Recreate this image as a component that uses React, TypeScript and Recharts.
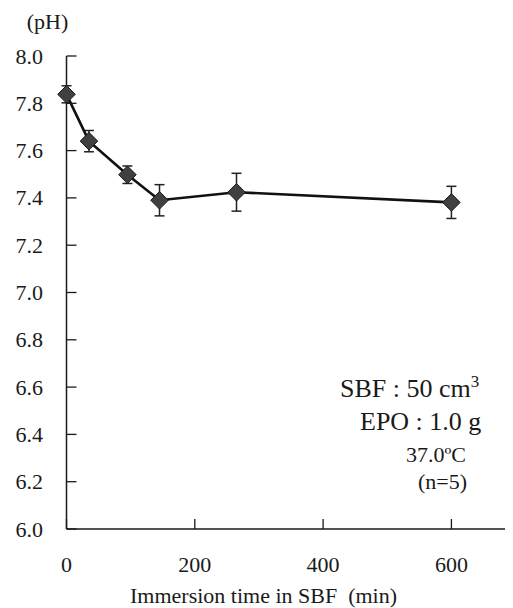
import React from 'react';
import { LineChart, Line, XAxis, YAxis, ErrorBar, Customized } from 'recharts';

const times = [0, 35, 95, 145, 265, 600];
const phValues = [7.838, 7.64, 7.498, 7.39, 7.424, 7.381];
const phErrors = [0.036, 0.045, 0.037, 0.066, 0.08, 0.068];
const xTicks = [0, 200, 400, 600];
const yTicks = [6.0, 6.2, 6.4, 6.6, 6.8, 7.0, 7.2, 7.4, 7.6, 7.8, 8.0];

const data = times.map((t, i) => ({ t, ph: phValues[i], err: phErrors[i] }));

const FONT = "'Liberation Serif', 'Times New Roman', 'DejaVu Serif', serif";
const INK = '#1a1a1a';
const textStyle = { fontFamily: FONT };

const YTick = (props: any) => {
  const { x, y, payload } = props;
  return (
    <g>
      <line x1={x} y1={y} x2={x + 10} y2={y} stroke={INK} strokeWidth={1.3} />
      <text x={x - 23.5} y={y + 7.5} textAnchor="end" fontSize={22} style={textStyle} fill={INK}>
        {Number(payload.value).toFixed(1)}
      </text>
    </g>
  );
};

const XTick = (props: any) => {
  const { x, y, payload } = props;
  return (
    <g>
      <line x1={x} y1={y} x2={x} y2={y - 10} stroke={INK} strokeWidth={1.3} />
      <text x={x} y={y + 42.5} textAnchor="middle" fontSize={22} style={textStyle} fill={INK}>
        {payload.value}
      </text>
    </g>
  );
};

const Diamond = (props: any) => {
  const { cx, cy } = props;
  if (cx == null || cy == null) return null;
  const r = 8.8;
  return (
    <polygon
      points={`${cx},${cy - r} ${cx + r},${cy} ${cx},${cy + r} ${cx - r},${cy}`}
      fill="#404040"
      stroke="#1a1a1a"
      strokeWidth={1}
    />
  );
};

const Annotations = () => (
  <g fill={INK}>
    <text x={18.7} y={21.3} fontSize={22} style={textStyle}>(pH)</text>
    <text x={332} y={388.7} fontSize={26} style={textStyle}>
      SBF : 50 cm<tspan fontSize={17} dy={-10}>3</tspan>
    </text>
    <text x={352} y={422} fontSize={26} style={textStyle}>EPO : 1.0 g</text>
    <text x={398} y={453.7} fontSize={22} style={textStyle}>37.0ºC</text>
    <text x={410} y={481.3} fontSize={22} style={textStyle}>(n=5)</text>
    <text x={122} y={594.7} fontSize={22} style={textStyle}>{'Immersion time in SBF\u00a0 (min)'}</text>
  </g>
);

export default function App() {
  return (
    <LineChart
      width={505}
      height={600}
      data={data}
      margin={{ top: 48, right: 0, bottom: 0, left: 0 }}
    >
      <XAxis
        dataKey="t"
        type="number"
        domain={[0, 696]}
        ticks={xTicks}
        height={79}
        axisLine={{ stroke: INK, strokeWidth: 1.5 }}
        tickLine={false}
        tickSize={0}
        tickMargin={0}
        tick={<XTick />}
        interval={0}
      />
      <YAxis
        type="number"
        domain={[6, 8]}
        ticks={yTicks}
        width={58.5}
        axisLine={{ stroke: INK, strokeWidth: 1.5 }}
        tickLine={false}
        tickSize={0}
        tickMargin={0}
        tick={<YTick />}
        interval={0}
      />
      <Line
        dataKey="ph"
        type="linear"
        stroke="#111"
        strokeWidth={2.6}
        dot={<Diamond />}
        activeDot={false}
        isAnimationActive={false}
      >
        <ErrorBar dataKey="err" direction="y" width={5} stroke="#222" strokeWidth={1.5} />
      </Line>
      <Customized component={Annotations} />
    </LineChart>
  );
}
